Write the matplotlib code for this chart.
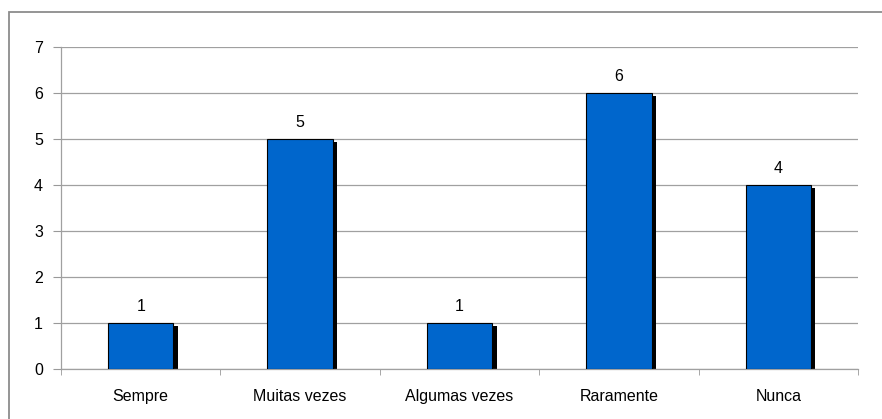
import matplotlib
matplotlib.use('Agg')
import matplotlib.pyplot as plt
from matplotlib.patches import Rectangle
import numpy as np

categories = ['Sempre', 'Muitas vezes', 'Algumas vezes', 'Raramente', 'Nunca']
values = [1, 5, 1, 6, 4]
yticks = [0, 1, 2, 3, 4, 5, 6, 7]

plt.rcParams['font.family'] = ['Liberation Sans', 'DejaVu Sans']

W, H = 882, 419
fig = plt.figure(figsize=(W / 100, H / 100), dpi=100)
ax = fig.add_axes([61 / W, (H - 369.3) / H, (858 - 61) / W, (369.3 - 47.3) / H])

x = np.arange(len(categories))
bar_w = 0.41
# drop shadow: ~4px right, ~3px down
dx = 4.5 / 159.4
dy = 3 / 46.0
ax.bar(x + dx, [v - dy for v in values], width=bar_w, color='black', zorder=2)
ax.bar(x, values, width=bar_w, color='#0066cc', edgecolor='black', linewidth=0.8, zorder=3)

for xi, v in zip(x, values):
    ax.annotate(str(v), (xi, v), xytext=(0, 7), textcoords='offset points',
                ha='center', va='bottom', fontsize=11.5, color='black')

ax.set_xlim(-0.5, len(categories) - 0.5)
ax.set_ylim(0, 7)
ax.set_yticks(yticks)
ax.set_xticks(x)
ax.set_xticklabels(categories, fontsize=11.5)
ax.set_xticks(np.arange(len(categories) + 1) - 0.5, minor=True)
ax.tick_params(axis='x', which='major', length=0, pad=14)
ax.tick_params(axis='x', which='minor', length=4, color='#999999', direction='out')
ax.tick_params(axis='y', labelsize=11.5, length=6, color='#999999', pad=7)

ax.yaxis.grid(True, color='#a0a0a0', linewidth=0.9)
ax.set_axisbelow(True)
for s in ['top', 'right']:
    ax.spines[s].set_visible(False)
for s in ['left', 'bottom']:
    ax.spines[s].set_color('#a0a0a0')
    ax.spines[s].set_linewidth(0.9)

# outer chart border (right/bottom run off the image)
fig.patches.append(Rectangle((9 / W, -0.1), 1.2, 1.1 - 12 / H, transform=fig.transFigure,
                             fill=False, edgecolor='#8c8c8c', linewidth=1.3))

fig.savefig('out.png', dpi=100)
